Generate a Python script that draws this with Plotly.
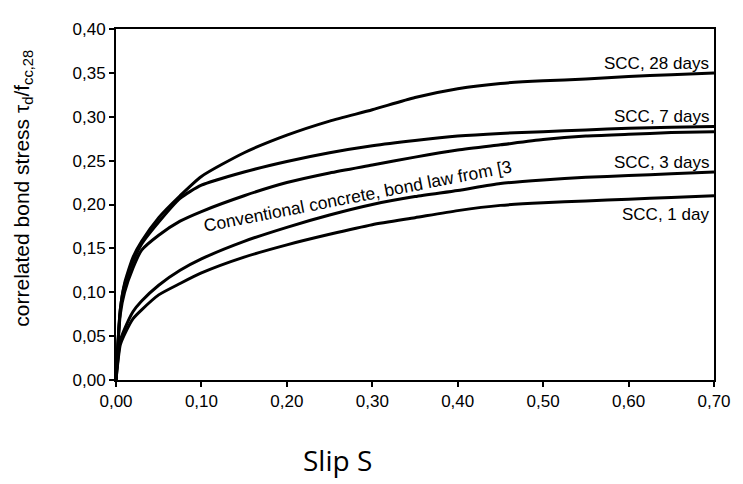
import plotly.graph_objects as go

slip = [0, 0.005, 0.01, 0.02, 0.03, 0.05, 0.075, 0.1, 0.15, 0.2, 0.25, 0.3,
        0.35, 0.4, 0.45, 0.5, 0.55, 0.6, 0.65, 0.7]

scc_28 = [0, 0.08, 0.11, 0.14, 0.158, 0.185, 0.21, 0.232, 0.259, 0.279, 0.295, 0.308,
          0.322, 0.332, 0.338, 0.341, 0.343, 0.346, 0.348, 0.35]
scc_7 = [0, 0.08, 0.108, 0.135, 0.155, 0.18, 0.207, 0.222, 0.237, 0.249, 0.259, 0.267,
         0.273, 0.278, 0.281, 0.283, 0.285, 0.287, 0.288, 0.289]
conventional = [0, 0.075, 0.1, 0.128, 0.148, 0.165, 0.181, 0.192, 0.21, 0.225, 0.236, 0.245,
                0.254, 0.262, 0.268, 0.274, 0.278, 0.28, 0.282, 0.283]
scc_3 = [0, 0.045, 0.058, 0.078, 0.09, 0.108, 0.125, 0.138, 0.158, 0.174, 0.188, 0.2,
         0.209, 0.216, 0.224, 0.228, 0.231, 0.233, 0.235, 0.237]
scc_1 = [0, 0.04, 0.052, 0.07, 0.08, 0.097, 0.11, 0.122, 0.14, 0.154, 0.166, 0.177,
         0.185, 0.193, 0.199, 0.202, 0.204, 0.206, 0.208, 0.21]

series_names = ["SCC, 28 days", "SCC, 7 days", "Conventional concrete, bond law from [3",
                "SCC, 3 days", "SCC, 1 day"]
series_values = [scc_28, scc_7, conventional, scc_3, scc_1]

x_ticks = [0, 0.1, 0.2, 0.3, 0.4, 0.5, 0.6, 0.7]
x_tick_labels = ["0,00", "0,10", "0,20", "0,30", "0,40", "0,50", "0,60", "0,70"]
y_ticks = [0, 0.05, 0.1, 0.15, 0.2, 0.25, 0.3, 0.35, 0.4]
y_tick_labels = ["0,00", "0,05", "0,10", "0,15", "0,20", "0,25", "0,30", "0,35", "0,40"]

# label positions (data coords)
label_y = [0.361, 0.300, None, 0.248, 0.189]

fig = go.Figure()
for name, vals in zip(series_names, series_values):
    fig.add_trace(go.Scatter(x=slip, y=vals, mode="lines", name=name,
                             line=dict(color="black", width=3, shape="spline", smoothing=0.6),
                             showlegend=False, hoverinfo="skip"))

font_main = "Liberation Sans, Arial, sans-serif"
annotations = []
for name, ly in zip(series_names, label_y):
    if ly is None:
        continue
    annotations.append(dict(x=0.697, y=ly, xref="x", yref="y", text=name, showarrow=False,
                            xanchor="right", yanchor="middle",
                            font=dict(family=font_main, size=17, color="black")))
annotations.append(dict(x=0.283, y=0.21, xref="x", yref="y", text=series_names[2],
                        showarrow=False, textangle=-11,
                        font=dict(family=font_main, size=17.5, color="black")))
annotations.append(dict(x=-0.155, y=0.546, xref="paper", yref="paper",
                        text="correlated bond stress τ<sub>d</sub>/f<sub>cc,28</sub>",
                        showarrow=False, textangle=-90, xanchor="center", yanchor="middle",
                        font=dict(family=font_main, size=21, color="black")))
annotations.append(dict(x=0.37, y=-0.228, xref="paper", yref="paper", text="Slip S",
                        showarrow=False, xanchor="center", yanchor="middle",
                        font=dict(family="Open Sans, sans-serif", size=28, color="black")))

fig.update_layout(
    width=735, height=476,
    margin=dict(l=108, r=21, t=12, b=104),
    paper_bgcolor="white", plot_bgcolor="white",
    annotations=annotations,
    xaxis=dict(range=[0, 0.7], tickvals=x_ticks, ticktext=x_tick_labels,
               showgrid=False, zeroline=False, showline=True, linecolor="black",
               linewidth=2, mirror=True, ticks="outside", ticklen=5, tickwidth=2,
               tickcolor="black",
               tickfont=dict(family=font_main, size=17, color="black")),
    yaxis=dict(range=[0, 0.4], tickvals=y_ticks, ticktext=y_tick_labels,
               showgrid=False, zeroline=False, showline=True, linecolor="black",
               linewidth=2, mirror=True, ticks="outside", ticklen=5, tickwidth=2,
               tickcolor="black",
               tickfont=dict(family=font_main, size=17, color="black")),
)

fig.write_html("out.html")
